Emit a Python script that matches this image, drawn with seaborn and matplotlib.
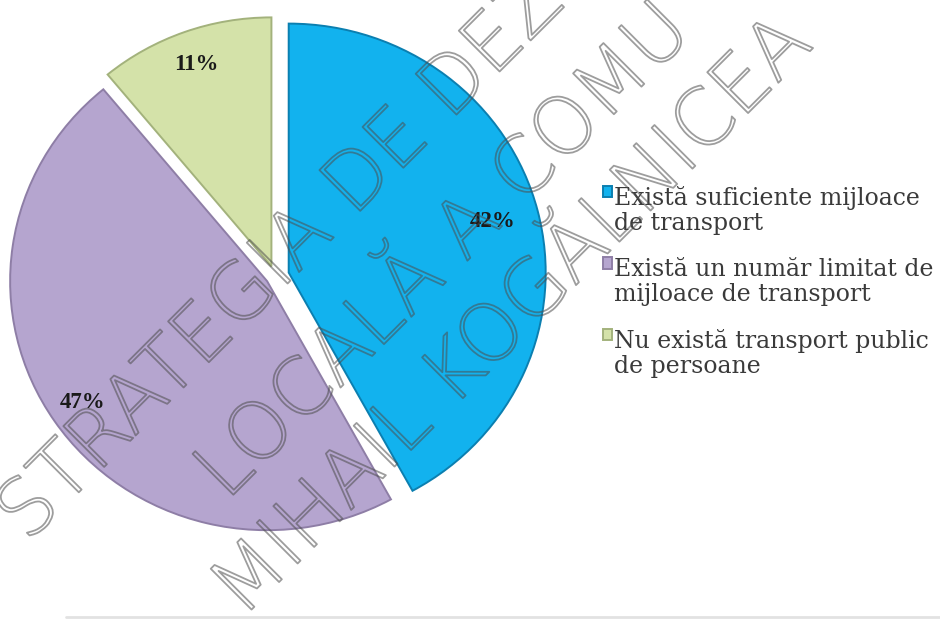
import matplotlib
matplotlib.use("Agg")
import numpy as np
import matplotlib.pyplot as plt
import matplotlib.patheffects as pe
from matplotlib.lines import Line2D
from matplotlib.patches import Rectangle
from matplotlib.legend_handler import HandlerPatch
import seaborn as sns

# data
categories = ["Există suficiente mijloace\nde transport",
              "Există un număr limitat de\nmijloace de transport",
              "Nu există transport public\nde persoane"]
shares = [42, 47, 11]
slice_colors = ["#12B2EE", "#B5A5CF", "#D4E2A9"]
edge_colors = ["#0B7FB0", "#8E7EA6", "#A3B27C"]
explode = [0.055, 0.037, 0.041]
label_dist = [0.82, 0.87, 0.86]

# visible part of the scan's diagonal watermark
watermark_lines = ["STRATEGIA DE DEZ", "LOCALĂ A COMU", "MIHAIL KOGĂLNICEA"]

sns.set_theme(style="white")
plt.rcParams["font.family"] = ["DejaVu Serif", "DejaVu Sans"]

W, H = 940, 621
fig = plt.figure(figsize=(9.4, 6.21), dpi=100)

# pie axes: centre ~(275, 276) px, radius ~257 x 249 px
cx, cy, rx, ry, lim = 275, 276, 257, 249, 1.15
ax = fig.add_axes([(cx - lim * rx) / W, (H - cy - lim * ry) / H,
                   2 * lim * rx / W, 2 * lim * ry / H])

wedges, _, pct_texts = ax.pie(
    shares, colors=slice_colors, explode=explode, startangle=90,
    counterclock=False, autopct="%d%%", pctdistance=0.84,
    wedgeprops=dict(linewidth=1.4),
    textprops=dict(family="Liberation Serif", fontweight="bold",
                   fontsize=16.5, color="#1a1a1a"))
for w, ec, t, d in zip(wedges, edge_colors, pct_texts, label_dist):
    w.set_edgecolor(ec)
    ang = np.deg2rad((w.theta1 + w.theta2) / 2)
    t.set_position((w.center[0] + d * np.cos(ang), w.center[1] + d * np.sin(ang)))
ax.set_aspect("auto")
ax.set_xlim(-lim, lim)
ax.set_ylim(-lim, lim)
ax.axis("off")

leg_size = 17
leg_spacing = 1.15
shift = leg_spacing * leg_size * 0.98 - 5


def top_square(legend, orig_handle, xdescent, ydescent, width, height, fontsize):
    # put the marker next to the first line of a two-line label
    return Rectangle((-xdescent, -ydescent + shift), width, height)


leg = ax.legend(wedges, categories, loc="center left",
                bbox_to_anchor=(603 / W, 1 - 282 / H),
                bbox_transform=fig.transFigure, frameon=False,
                prop=dict(family="DejaVu Serif", size=leg_size),
                handlelength=0.37, handleheight=0.37, handletextpad=0.08,
                labelspacing=0.95, borderpad=0, borderaxespad=0,
                handler_map={w: HandlerPatch(patch_func=top_square) for w in wedges})
for t in leg.get_texts():
    t.set_color("#3a3a3a")
    t.set_linespacing(leg_spacing)

# hollow diagonal watermark
starts = [(12, 528), (211, 486), (227, 603)]
for text, (x, y) in zip(watermark_lines, starts):
    fig.text(x / W, 1 - y / H, text, rotation=45, rotation_mode="anchor",
             ha="left", va="center", fontsize=57, family="DejaVu Sans",
             fontweight=200, color=(0, 0, 0, 0), zorder=10,
             path_effects=[pe.Stroke(linewidth=1.3, foreground=(0.3, 0.3, 0.3, 0.55))])

# faint rule at the very bottom of the scan
fig.add_artist(Line2D([0.07, 1.0], [0.006, 0.006], color="#e2e2e2", lw=2,
                      transform=fig.transFigure))

fig.savefig("out.png", dpi=100, facecolor="white")
